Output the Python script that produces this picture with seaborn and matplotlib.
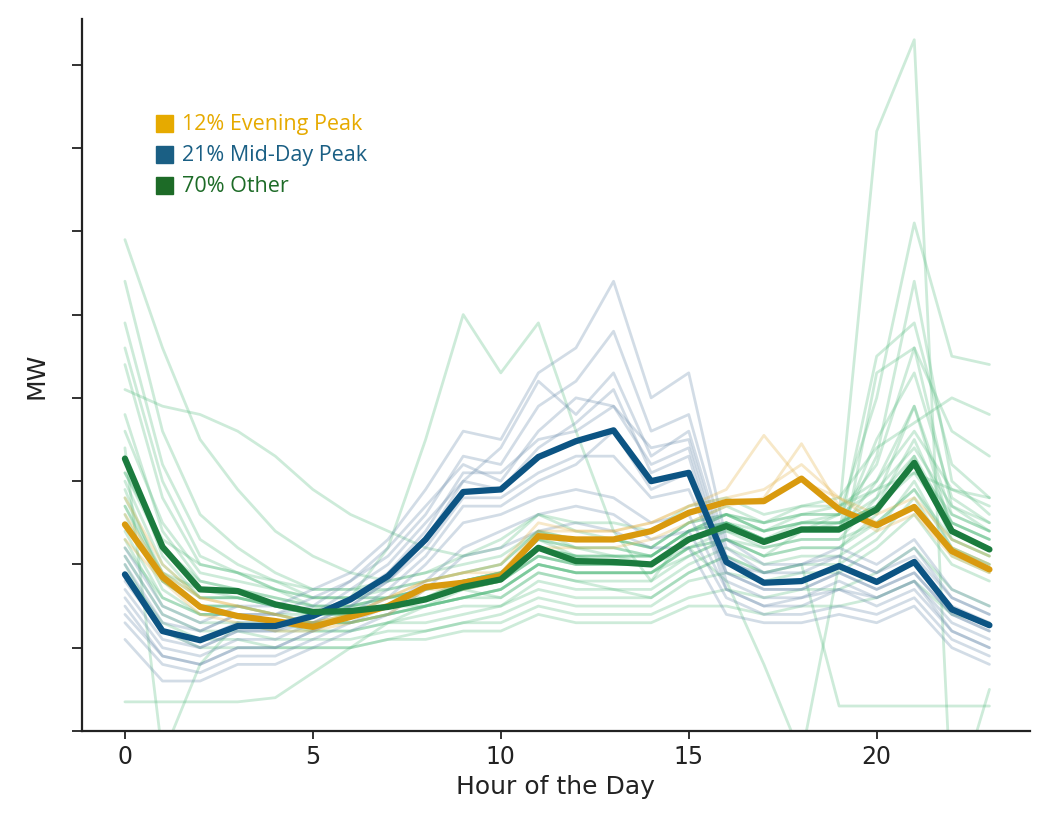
"""
Daily load profiles by cluster: thin lines per profile, thick line per cluster mean.
"""

import matplotlib
matplotlib.use("Agg")
import matplotlib.pyplot as plt
from matplotlib.patches import Rectangle
import numpy as np
import pandas as pd
import seaborn as sns


HOURS = list(range(24))

# cluster means (MW in tick units)
evening_mean = [2.48, 1.85, 1.49, 1.38, 1.32, 1.25, 1.37, 1.50, 1.73, 1.78, 1.86, 2.34,
                2.30, 2.30, 2.40, 2.62, 2.75, 2.76, 3.03, 2.66, 2.47, 2.69, 2.16, 1.94]
midday_mean = [1.88, 1.20, 1.09, 1.26, 1.26, 1.38, 1.58, 1.86, 2.30, 2.87, 2.90, 3.29,
               3.48, 3.61, 3.00, 3.10, 2.03, 1.78, 1.80, 1.98, 1.79, 2.03, 1.46, 1.27]
other_mean = [3.27, 2.21, 1.70, 1.68, 1.52, 1.43, 1.44, 1.49, 1.58, 1.73, 1.82, 2.20,
              2.04, 2.03, 2.00, 2.30, 2.46, 2.27, 2.42, 2.42, 2.66, 3.22, 2.40, 2.18]

# individual profiles (a readable subset of the thin lines)
other_profiles = [
    [5.9, 4.6, 3.5, 2.9, 2.4, 2.1, 1.9, 1.8, 1.9, 2.0, 2.1, 2.4, 2.3, 2.3, 2.2, 2.5, 2.6, 2.5, 2.6, 2.6, 2.9, 3.4, 2.7, 2.5],
    [5.4, 3.6, 2.6, 2.2, 1.9, 1.7, 1.7, 1.7, 1.8, 1.9, 2.0, 2.4, 2.2, 2.2, 2.1, 2.4, 2.6, 2.4, 2.5, 2.5, 2.8, 3.3, 2.5, 2.3],
    [4.9, 3.2, 2.3, 2.0, 1.8, 1.6, 1.6, 1.6, 1.7, 1.8, 1.9, 2.3, 2.1, 2.1, 2.0, 2.3, 2.5, 2.3, 2.4, 2.4, 3.0, 3.9, 2.6, 2.4],
    [4.4, 2.8, 2.0, 1.9, 1.7, 1.5, 1.5, 1.6, 1.6, 1.8, 1.9, 2.2, 2.1, 2.0, 2.0, 2.3, 2.5, 2.3, 2.4, 2.4, 3.5, 4.3, 2.8, 2.5],
    [3.8, 2.4, 1.8, 1.7, 1.6, 1.5, 1.5, 1.5, 1.6, 1.7, 1.8, 2.1, 2.0, 2.0, 2.0, 2.3, 2.4, 2.3, 2.4, 2.4, 3.3, 5.4, 3.0, 2.6],
    [3.3, 2.1, 1.6, 1.6, 1.5, 1.4, 1.4, 1.5, 1.5, 1.6, 1.7, 2.0, 1.9, 1.9, 1.9, 2.2, 2.4, 2.2, 2.3, 2.3, 2.8, 3.9, 2.4, 2.2],
    [2.9, 1.8, 1.5, 1.5, 1.4, 1.3, 1.3, 1.4, 1.5, 1.6, 1.6, 1.9, 1.8, 1.8, 1.8, 2.1, 2.3, 2.1, 2.2, 2.2, 2.6, 3.3, 2.3, 2.1],
    [2.6, 1.7, 1.4, 1.4, 1.3, 1.2, 1.2, 1.3, 1.4, 1.5, 1.5, 1.8, 1.7, 1.7, 1.7, 2.0, 2.2, 2.0, 2.1, 2.1, 2.4, 3.0, 2.2, 2.0],
    [2.3, 1.5, 1.3, 1.3, 1.2, 1.2, 1.2, 1.3, 1.3, 1.4, 1.5, 1.7, 1.6, 1.6, 1.6, 1.9, 2.1, 1.9, 2.0, 2.0, 2.3, 2.8, 2.1, 1.9],
    [2.1, 1.4, 1.2, 1.2, 1.1, 1.1, 1.1, 1.2, 1.2, 1.3, 1.4, 1.6, 1.5, 1.5, 1.5, 1.8, 1.9, 1.8, 1.9, 1.9, 2.2, 2.6, 2.0, 1.8],
    [4.1, 3.9, 3.8, 3.6, 3.3, 2.9, 2.6, 2.4, 2.2, 2.1, 2.3, 2.6, 2.4, 2.3, 2.2, 2.5, 2.7, 2.5, 2.6, 2.7, 2.9, 3.1, 2.9, 2.8],
    [0.35, 0.35, 0.35, 0.35, 0.4, 0.7, 1.0, 1.3, 1.5, 1.7, 1.6, 1.9, 1.8, 1.7, 1.6, 1.9, 2.1, 1.9, 2.0, 0.3, 0.3, 0.3, 0.3, 0.3],
    [2.8, 1.9, 1.6, 1.6, 1.5, 1.4, 1.4, 1.5, 1.6, 1.7, 1.8, 2.1, 2.0, 2.0, 2.0, 2.2, 2.3, 2.1, 2.4, 2.6, 7.2, 8.3, -1.0, 0.5],
    [2.5, 1.8, 1.5, 1.5, 1.4, 1.3, 1.3, 1.4, 1.5, 1.6, 1.7, 2.0, 1.9, 1.9, 1.9, 2.2, 1.8, 0.8, -0.3, 2.0, 4.3, 4.6, 3.6, 3.3],
    [2.7, 1.8, 1.5, 1.5, 1.4, 1.4, 1.6, 2.2, 3.5, 5.0, 4.3, 4.9, 3.6, 2.4, 1.8, 2.4, 2.5, 2.3, 2.4, 2.5, 2.7, 3.1, 2.5, 2.3],
    [3.4, -0.3, 0.8, 1.3, 1.3, 1.3, 1.3, 1.4, 1.5, 1.6, 1.7, 2.0, 1.9, 1.9, 1.9, 2.1, 2.3, 2.1, 2.2, 2.2, 2.5, 2.9, 2.2, 2.0],
    [3.0, 2.0, 1.6, 1.6, 1.5, 1.4, 1.4, 1.5, 1.6, 1.7, 1.8, 2.1, 2.0, 2.0, 2.0, 2.3, 2.5, 2.3, 2.5, 2.6, 4.0, 6.1, 4.5, 4.4],
    [2.4, 1.6, 1.4, 1.4, 1.3, 1.3, 1.3, 1.4, 1.5, 1.6, 1.7, 2.0, 1.9, 1.9, 1.9, 2.2, 2.3, 2.2, 2.3, 2.3, 2.5, 2.9, 2.3, 2.1],
    [1.9, 1.3, 1.1, 1.1, 1.0, 1.0, 1.0, 1.1, 1.2, 1.3, 1.3, 1.5, 1.4, 1.4, 1.4, 1.6, 1.7, 1.6, 1.7, 1.7, 1.9, 2.2, 1.7, 1.5],
    [3.1, 2.2, 1.8, 1.7, 1.6, 1.5, 1.5, 1.6, 1.7, 1.8, 1.9, 2.2, 2.1, 2.1, 2.1, 2.4, 2.6, 2.5, 2.7, 2.8, 3.4, 3.7, 4.0, 3.8],
    [3.6, 2.5, 1.9, 1.8, 1.7, 1.6, 1.6, 1.7, 1.8, 1.9, 2.0, 2.4, 2.3, 2.3, 2.2, 2.5, 2.6, 2.4, 2.5, 2.5, 2.7, 3.2, 2.6, 2.4],
    [2.2, 1.6, 1.4, 1.4, 1.3, 1.3, 1.4, 1.5, 1.6, 1.8, 1.9, 2.2, 2.1, 2.1, 2.1, 2.4, 2.5, 2.4, 2.5, 2.5, 2.7, 3.5, 2.5, 2.3],
    [4.6, 3.0, 2.1, 1.9, 1.7, 1.6, 1.6, 1.6, 1.7, 1.8, 1.9, 2.3, 2.2, 2.1, 2.1, 2.4, 2.5, 2.3, 2.4, 2.4, 4.5, 4.9, 3.2, 2.8],
    [2.0, 1.2, 1.0, 1.0, 1.0, 1.0, 1.0, 1.1, 1.1, 1.2, 1.2, 1.4, 1.3, 1.3, 1.3, 1.5, 1.5, 1.4, 1.5, 1.5, 1.6, 1.8, 1.4, 1.3],
    [3.1, 2.3, 2.0, 1.9, 1.8, 1.7, 1.7, 1.8, 1.9, 2.1, 2.2, 2.6, 2.5, 2.5, 2.4, 2.7, 2.8, 2.6, 2.7, 2.7, 3.0, 3.6, 2.9, 2.7],
    [2.7, 1.9, 1.7, 1.6, 1.5, 1.4, 1.5, 1.6, 1.7, 1.8, 1.9, 2.3, 2.2, 2.2, 2.1, 2.4, 2.6, 2.4, 2.6, 2.6, 3.2, 4.6, 2.7, 2.4],
]
midday_profiles = [
    [2.2, 1.5, 1.3, 1.5, 1.5, 1.7, 1.9, 2.3, 2.9, 3.6, 3.5, 4.3, 4.6, 5.4, 4.0, 4.3, 2.3, 2.0, 2.0, 2.2, 2.0, 2.3, 1.7, 1.5],
    [2.0, 1.3, 1.2, 1.4, 1.4, 1.5, 1.8, 2.1, 2.6, 3.3, 3.2, 3.9, 4.2, 4.8, 3.6, 3.8, 2.2, 1.9, 1.9, 2.1, 1.9, 2.2, 1.6, 1.4],
    [1.7, 1.1, 1.0, 1.2, 1.2, 1.3, 1.5, 1.8, 2.2, 2.8, 2.8, 3.1, 3.3, 3.3, 2.8, 2.9, 1.9, 1.7, 1.7, 1.9, 1.7, 1.9, 1.4, 1.2],
    [1.5, 0.9, 0.8, 1.0, 1.0, 1.2, 1.4, 1.6, 2.0, 2.5, 2.6, 2.8, 2.9, 2.8, 2.5, 2.6, 1.7, 1.5, 1.5, 1.7, 1.5, 1.7, 1.2, 1.0],
    [1.3, 0.8, 0.7, 0.9, 0.9, 1.1, 1.3, 1.5, 1.8, 2.2, 2.4, 2.6, 2.7, 2.6, 2.3, 2.4, 1.6, 1.4, 1.4, 1.5, 1.4, 1.6, 1.1, 0.9],
    [1.9, 1.2, 1.1, 1.3, 1.3, 1.4, 1.7, 2.0, 2.5, 3.0, 3.4, 4.2, 3.8, 4.3, 3.3, 3.6, 2.1, 1.8, 1.8, 2.0, 1.8, 2.0, 1.5, 1.3],
    [1.1, 0.6, 0.6, 0.8, 0.8, 1.0, 1.2, 1.4, 1.7, 2.1, 2.2, 2.4, 2.5, 2.4, 2.2, 2.2, 1.4, 1.3, 1.3, 1.4, 1.3, 1.5, 1.0, 0.8],
    [2.1, 1.4, 1.2, 1.4, 1.4, 1.6, 1.8, 2.2, 2.7, 3.2, 3.0, 3.6, 4.0, 3.9, 3.4, 3.5, 2.0, 1.9, 2.0, 2.1, 1.9, 2.1, 1.6, 1.4],
    [1.6, 1.0, 0.9, 1.1, 1.1, 1.3, 1.5, 1.8, 2.3, 3.0, 2.9, 3.4, 3.7, 4.1, 3.1, 3.3, 1.8, 1.6, 1.6, 1.8, 1.6, 1.8, 1.3, 1.1],
    [1.4, 0.9, 0.8, 1.0, 1.0, 1.2, 1.4, 1.7, 2.1, 2.7, 2.7, 3.0, 3.2, 3.6, 2.9, 3.1, 1.7, 1.5, 1.6, 1.7, 1.6, 1.8, 1.2, 1.0],
    [1.8, 1.2, 1.0, 1.2, 1.2, 1.4, 1.6, 1.9, 2.4, 3.1, 3.1, 3.5, 3.6, 3.9, 3.2, 3.4, 1.9, 1.7, 1.7, 1.9, 1.7, 1.9, 1.4, 1.2],
]
evening_profiles = [
    [2.6, 1.9, 1.6, 1.5, 1.4, 1.3, 1.4, 1.6, 1.8, 1.9, 2.0, 2.5, 2.4, 2.4, 2.5, 2.7, 2.9, 3.55, 3.0, 2.8, 2.6, 2.8, 2.3, 2.1],
    [2.3, 1.8, 1.4, 1.3, 1.2, 1.2, 1.3, 1.4, 1.7, 1.7, 1.8, 2.2, 2.2, 2.2, 2.3, 2.5, 2.7, 2.8, 3.45, 2.7, 2.4, 2.6, 2.1, 1.9],
    [2.8, 2.0, 1.6, 1.5, 1.4, 1.3, 1.4, 1.6, 1.8, 1.9, 1.9, 2.4, 2.4, 2.4, 2.5, 2.7, 2.8, 2.9, 3.2, 2.8, 2.5, 2.7, 2.2, 2.0],
]

LABELS = ["12% Evening Peak", "21% Mid-Day Peak", "70% Other"]
LEGEND_COLORS = ["#E6AA00", "#1A5F84", "#1D6B27"]
MEAN_COLORS = ["#D99A0E", "#0C5483", "#1B7B3E"]
THIN_COLORS = ["#E5B44A", "#5F84A6", "#4DB879"]


def to_long(profiles, name):
    rows = []
    for i, prof in enumerate(profiles):
        for h, v in zip(HOURS, prof):
            rows.append({"hour": h, "mw": v, "profile": f"{name}_{i}"})
    return pd.DataFrame(rows)


def main():
    sns.set_style("ticks")
    plt.rcParams["font.family"] = ["DejaVu Sans"]

    fig, ax = plt.subplots(figsize=(10.39, 8.29), dpi=100)
    fig.subplots_adjust(left=0.079, right=0.991, bottom=0.117, top=0.976)

    # thin individual profiles
    groups = [("other", other_profiles, THIN_COLORS[2], 0.28),
              ("midday", midday_profiles, THIN_COLORS[1], 0.28),
              ("evening", evening_profiles, THIN_COLORS[0], 0.3)]
    for name, profs, color, alpha in groups:
        df = to_long(profs, name)
        sns.lineplot(data=df, x="hour", y="mw", units="profile", estimator=None,
                     color=color, alpha=alpha, lw=2.0, ax=ax, legend=False)

    # thick cluster means
    means = [evening_mean, midday_mean, other_mean]
    for vals, color in zip(means, MEAN_COLORS):
        sns.lineplot(x=HOURS, y=vals, color=color, lw=4.5, ax=ax, legend=False)

    ax.set_xlim(-1.14, 24.07)
    ax.set_ylim(0, 8.55)
    ax.set_xticks([0, 5, 10, 15, 20])
    ax.set_yticks(np.arange(0, 9))
    ax.set_yticklabels([])
    ax.tick_params(axis="x", labelsize=17, length=6, width=1.3, colors="#222222")
    ax.tick_params(axis="y", length=7, width=1.3, colors="#222222")
    ax.set_xlabel("Hour of the Day", fontsize=18, color="#222222")
    ax.set_ylabel("MW", fontsize=18, color="#222222", labelpad=14)
    sns.despine(ax=ax)
    for sp in ("left", "bottom"):
        ax.spines[sp].set_linewidth(1.6)
        ax.spines[sp].set_color("#222222")

    # legend: coloured squares + coloured text
    for i, (lab, col) in enumerate(zip(LABELS, LEGEND_COLORS)):
        yc = 0.853 - i * 0.0435
        ax.add_patch(Rectangle((0.078, yc - 0.012), 0.018, 0.024, transform=ax.transAxes,
                               color=col, clip_on=False))
        ax.text(0.105, yc, lab, transform=ax.transAxes, color=col, fontsize=15.5,
                family=["Open Sans", "DejaVu Sans"], va="center", ha="left")

    plt.savefig("out.png", dpi=100)
    plt.close()


if __name__ == "__main__":
    main()
